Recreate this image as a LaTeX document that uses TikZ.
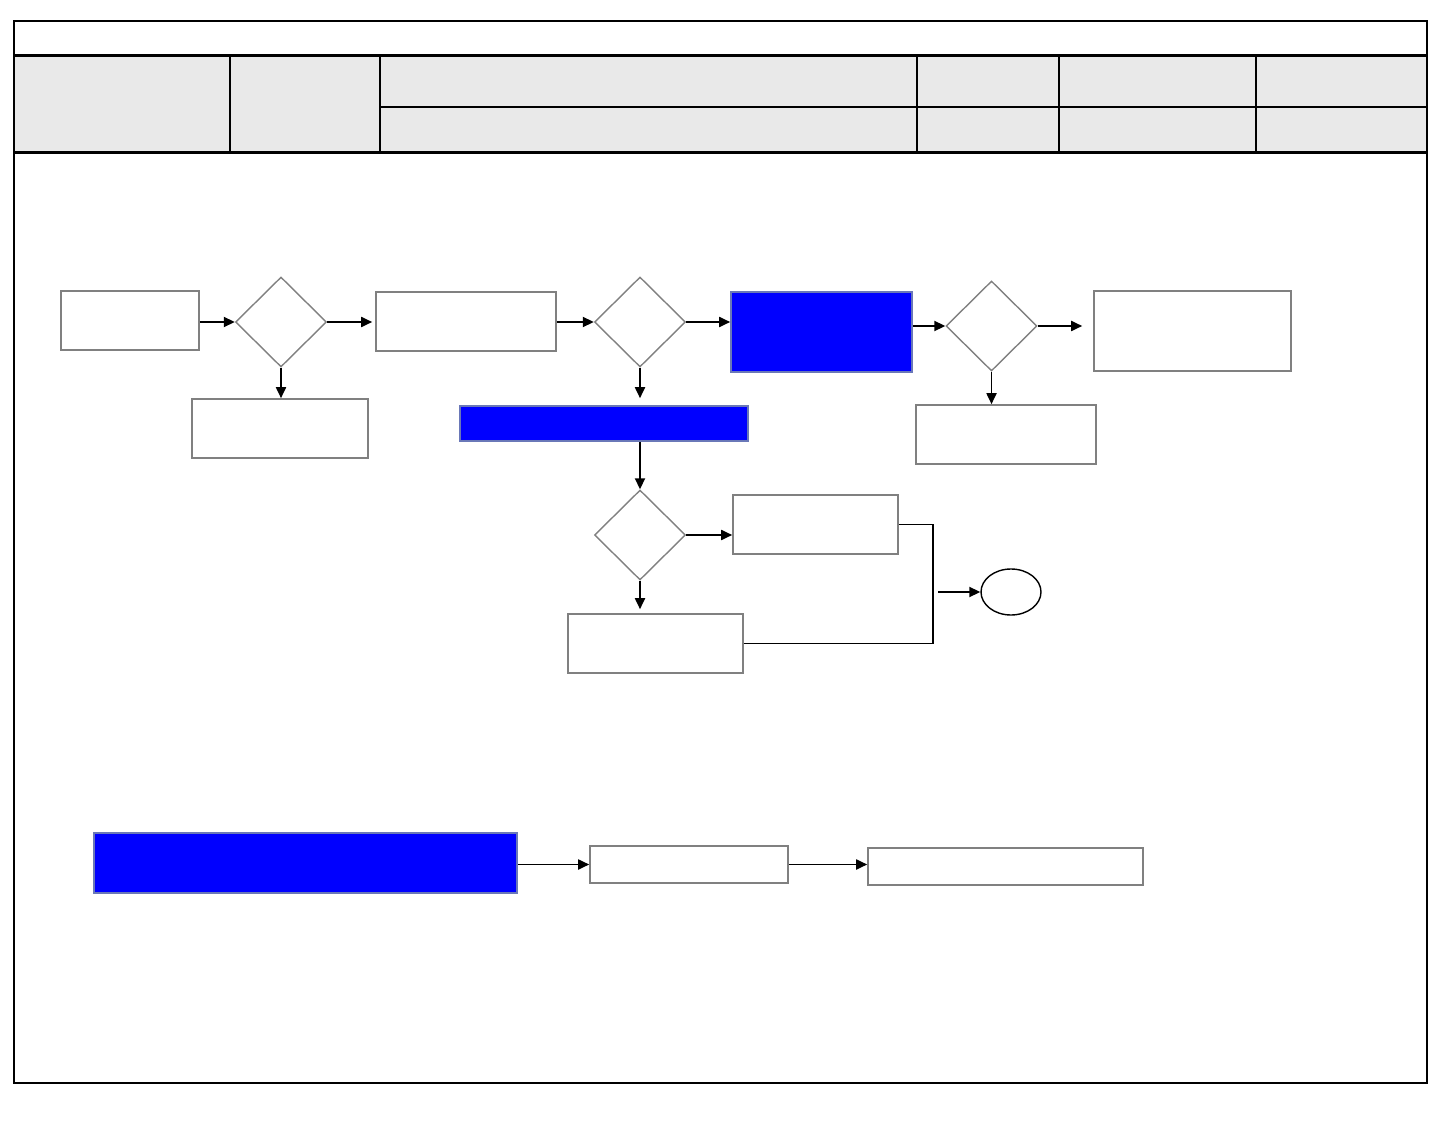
\documentclass[tikz,border=0pt]{standalone}
\usetikzlibrary{shapes.geometric,arrows.meta}
\definecolor{boxgray}{HTML}{808080}
\definecolor{hdrgray}{HTML}{E9E9E9}
\definecolor{bluefill}{HTML}{0000FF}
\definecolor{blueedge}{HTML}{6A78B8}
\begin{document}
\begin{tikzpicture}[x=1pt,y=-1pt,
  box/.style={draw=boxgray,line width=1.6pt,fill=white,rectangle,inner sep=0pt},
  bluebox/.style={draw=blueedge,line width=1.6pt,fill=bluefill,rectangle,inner sep=0pt},
  dec/.style={draw=boxgray,line width=1.4pt,fill=white,diamond,inner sep=0pt,minimum width=91pt,minimum height=90pt},
  term/.style={draw=black,line width=1.4pt,ellipse,inner sep=0pt,minimum width=60pt,minimum height=46pt},
  arr/.style={draw=black,line width=1.8pt,-{Triangle[length=11pt,width=10pt]}},
  link/.style={draw=black,line width=1.3pt}]
\useasboundingbox (0,0) rectangle (1443,1131);
% header
\fill[hdrgray] (14,56) rectangle (1427,153);
\draw[line width=1.8pt] (14,21) rectangle (1427,1083);
\draw[line width=3pt] (14,56) -- (1427,56);
\draw[line width=3pt] (14,153) -- (1427,153);
\draw[line width=2pt] (380,107) -- (1427,107);
\foreach \xx in {230,380,917,1059,1256} \draw[line width=1.8pt] (\xx,56) -- (\xx,153);
% nodes
\node[box,minimum width=138pt,minimum height=59pt] (b1) at (130,320.5) {};
\node[dec] (d1) at (281,322) {};
\node[box,minimum width=180pt,minimum height=59pt] (b2) at (466,321.5) {};
\node[dec] (d2) at (640,322) {};
\node[bluebox,minimum width=181pt,minimum height=80pt] (b3) at (821.5,332) {};
\node[dec] (d3) at (991.5,326) {};
\node[box,minimum width=197pt,minimum height=80pt] (b4) at (1192.5,331) {};
\node[box,minimum width=176pt,minimum height=59pt] (b5) at (280,428.5) {};
\node[bluebox,minimum width=288pt,minimum height=35pt] (bar) at (604,423.5) {};
\node[box,minimum width=180pt,minimum height=59pt] (b6) at (1006,434.5) {};
\node[dec] (d4) at (640,535) {};
\node[box,minimum width=165pt,minimum height=59pt] (b7) at (815.5,524.5) {};
\node[box,minimum width=175pt,minimum height=59pt] (b8) at (655.5,643.5) {};
\node[term] (end) at (1011,592) {};
\coordinate (jn) at (938,592);
\node[bluebox,minimum width=423pt,minimum height=60pt] (big) at (305.5,863) {};
\node[box,minimum width=198pt,minimum height=37pt] (b9) at (689,864.5) {};
\node[box,minimum width=275pt,minimum height=37pt] (b10) at (1005.5,866.5) {};
% connectors
\draw[arr] (b1.east |- d1.west) -- (d1.west);
\draw[arr,shorten >=3pt] (d1.east) -- (b2.west |- d1.east);
\draw[arr] (d1.south) -- (b5.north -| d1.south);
\draw[arr] (b2.east |- d2.west) -- (d2.west);
\draw[arr] (d2.east) -- (b3.west |- d2.east);
\draw[arr,shorten >=7pt] (d2.south) -- (bar.north -| d2.south);
\draw[arr] (bar.south -| d4.north) -- (d4.north);
\draw[arr] (b3.east |- d3.west) -- (d3.west);
\draw[arr,shorten >=11pt] (d3.east) -- (b4.west |- d3.east);
\draw[arr] (d3.south) -- (b6.north -| d3.south);
\draw[arr] (d4.east) -- (b7.west |- d4.east);
\draw[arr,shorten >=4pt] (d4.south) -- (b8.north -| d4.south);
\draw[link] (b7.east) -- (933,524.5) -- (933,643.5) -- (b8.east);
\draw[arr] (jn) -- (end.west);
\draw[arr] (big.east |- b9.west) -- (b9.west);
\draw[arr] (b9.east) -- (b10.west |- b9.east);
\end{tikzpicture}
\end{document}
